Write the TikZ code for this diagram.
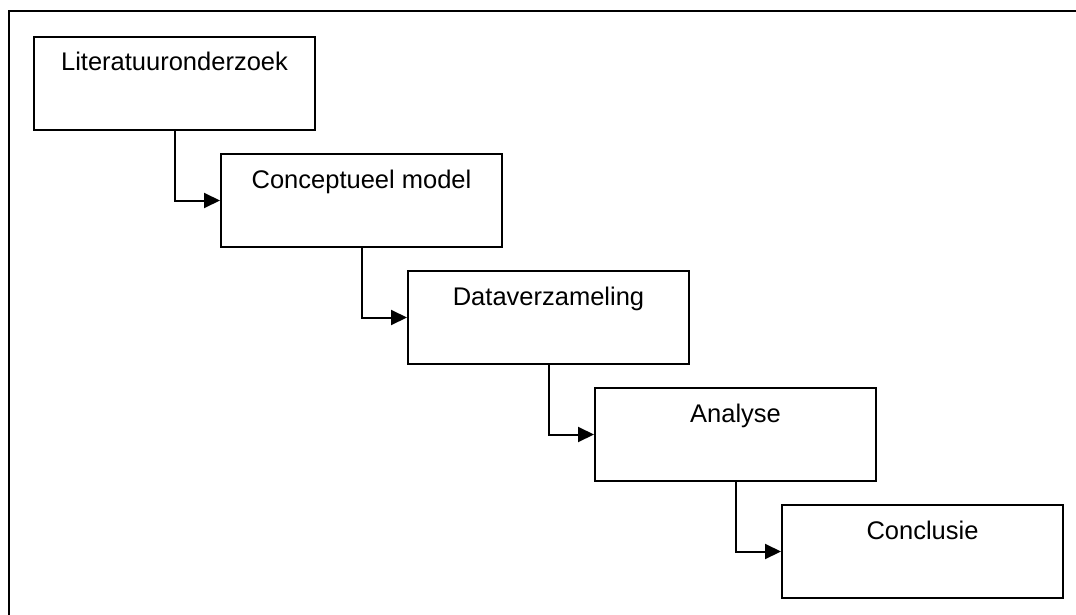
\documentclass[tikz,border=0pt]{standalone}
\usepackage{fontspec}
\setmainfont{Liberation Sans}
\usetikzlibrary{arrows.meta}

\tikzset{
  stepbox/.style={draw=black, line width=2pt, rectangle, minimum width=281pt,
    minimum height=93pt, inner sep=0pt, anchor=north west},
  steplabel/.style={anchor=base, inner sep=0pt, font=\fontsize{25.5pt}{30pt}\selectfont},
  flow/.style={line width=2pt, -{Triangle[length=16pt,width=15pt]}},
  frameline/.style={line width=2.4pt}
}

\begin{document}
\begin{tikzpicture}[x=1pt, y=-1pt]
  \useasboundingbox (0,0) rectangle (1076,615);

  % open frame: only the top and left edges
  \draw[frameline] (1076,11) -- (9,11) -- (9,615);

  % process steps, each one step lower and to the right
  \node[stepbox] (lit)  at (33,36)  {};
  \node[stepbox] (con)  at (220,153) {};
  \node[stepbox] (data) at (407,270) {};
  \node[stepbox] (ana)  at (594,387) {};
  \node[stepbox] (conc) at (781,504) {};

  \node[steplabel] (tlit)  at ([yshift=-35pt]lit.north)  {Literatuuronderzoek};
  \node[steplabel] (tcon)  at ([yshift=-35pt]con.north)  {Conceptueel model};
  \node[steplabel] (tdata) at ([yshift=-35pt]data.north) {Dataverzameling};
  \node[steplabel] (tana)  at ([yshift=-35pt]ana.north)  {Analyse};
  \node[steplabel] (tconc) at ([yshift=-35pt]conc.north) {Conclusie};

  % elbow connectors: down from the bottom centre, then right into the next box
  \draw[flow] (lit.south)  |- (con.west);
  \draw[flow] (con.south)  |- (data.west);
  \draw[flow] (data.south) |- (ana.west);
  \draw[flow] (ana.south)  |- (conc.west);
\end{tikzpicture}
\end{document}
